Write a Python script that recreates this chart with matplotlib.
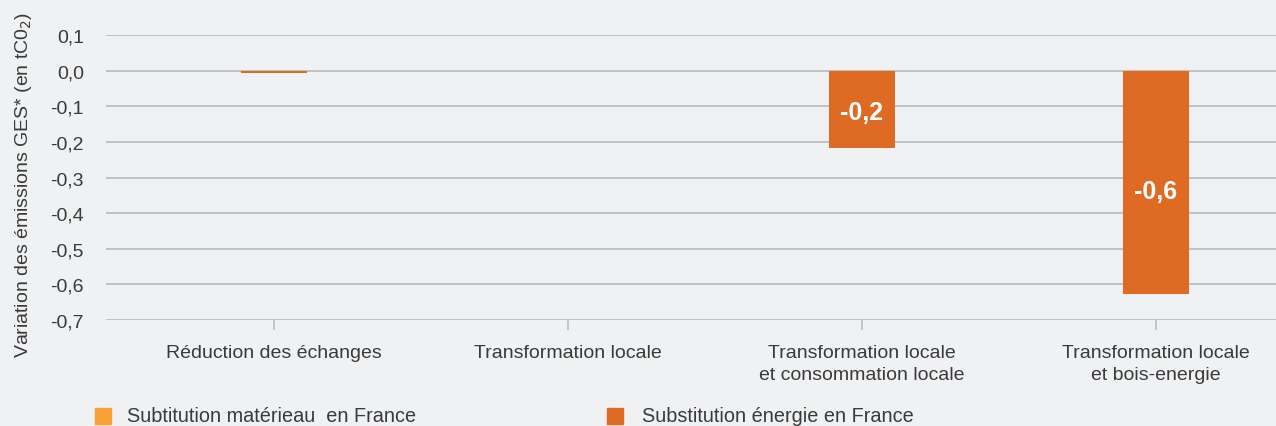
import matplotlib
matplotlib.use("Agg")
import matplotlib.pyplot as plt
from matplotlib.patches import Rectangle

categories = ["Réduction des échanges", "Transformation locale",
              "Transformation locale\net consommation locale",
              "Transformation locale\net bois-energie"]
materiau = [0.0, 0.0, 0.0, 0.0]
energie = [-0.006, 0.0, -0.216, -0.628]
bar_labels = ["", "", "-0,2", "-0,6"]
yticks = [0.1, 0.0, -0.1, -0.2, -0.3, -0.4, -0.5, -0.6, -0.7]
ytick_labels = ["0,1", "0,0", "-0,1", "-0,2", "-0,3", "-0,4", "-0,5", "-0,6", "-0,7"]
series_names = ["Subtitution matérieau  en France", "Substitution énergie en France"]

bg = "#F0F1F3"
c_mat = "#F7A033"
c_en = "#DF6A24"
grid_c = "#BDBEBF"
txt_c = "#3A3A3A"

plt.rcParams['font.family'] = ['Liberation Sans', 'DejaVu Sans']

fig = plt.figure(figsize=(12.76, 4.27), dpi=100, facecolor=bg)
ax = fig.add_axes([106/1276, 1-321/427, 1-106/1276, (321-36)/427])
ax.set_facecolor(bg)

x = list(range(len(categories)))
w = 0.224
ax.bar(x, materiau, width=w, color=c_mat, zorder=3)
ax.bar(x, energie, width=w, bottom=materiau, color=c_en, zorder=3)

for xi, v, lab in zip(x, energie, bar_labels):
    if lab:
        ax.text(xi, v*0.54, lab, ha='center', va='center', color='white',
                fontsize=18, fontweight='bold', zorder=4)

ax.set_ylim(-0.7, 0.1)
ax.set_xlim(-0.571, 3.408)
ax.set_yticks(yticks)
ax.set_yticklabels(ytick_labels, fontsize=14, color=txt_c)
ax.set_xticks(x)
ax.set_xticklabels(categories, fontsize=14, color=txt_c, linespacing=1.45)
ax.tick_params(axis='y', length=0, pad=16)
ax.tick_params(axis='x', length=7, width=1.2, color=grid_c, pad=10)
for yv in yticks:
    ax.axhline(yv, color=grid_c, lw=1.3, zorder=1)
for s in ax.spines.values():
    s.set_visible(False)

fig.text(24/1276, 1-185/427, "Variation des émissions GES* (en tC0$_2$)",
         rotation=90, ha='center', va='center', fontsize=14, color=txt_c)

# legend
for sx, tx, col, name in [(95, 127, c_mat, series_names[0]), (607, 642, c_en, series_names[1])]:
    fig.patches.append(Rectangle((sx/1276, 1-425/427), 16/1276, 16/427,
                                 transform=fig.transFigure, color=col, figure=fig))
    fig.text(tx/1276, 1-417/427, name, ha='left', va='center', fontsize=14.3, color=txt_c)

fig.savefig("out.png", dpi=100, facecolor=bg)
